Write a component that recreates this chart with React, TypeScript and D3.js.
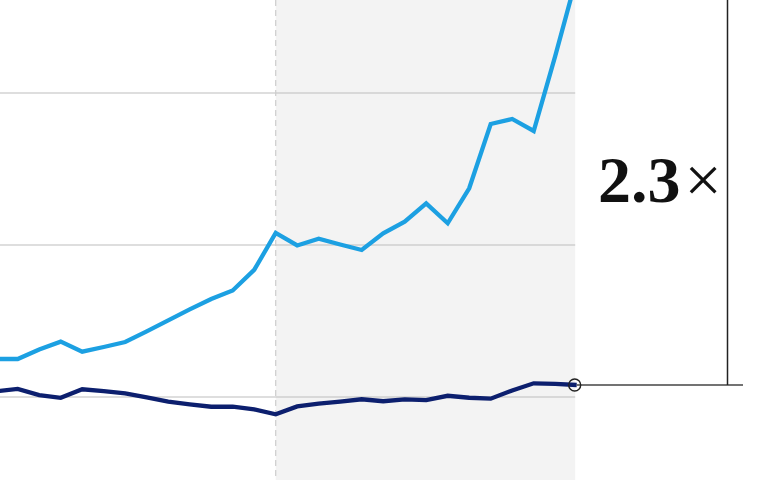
import React from "react";
import * as d3 from "d3";

const years = d3.range(1990, 2018).map(String);
const seriesLight = [225.0, 225.0, 231.3, 236.4, 229.8, 232.9, 236.2, 243.2, 250.4, 257.6, 264.5, 270.1, 283.6, 307.9, 299.7, 304.1, 300.3, 296.7, 307.7, 315.3, 327.4, 314.3, 337.3, 379.6, 382.9, 375.0, 424.3, 476.3];
const seriesDark = [203.7, 205.3, 201.3, 199.5, 205.1, 203.8, 202.4, 199.7, 197.0, 195.2, 193.6, 193.6, 191.8, 188.6, 193.8, 195.7, 197.0, 198.5, 197.2, 198.5, 198.0, 200.8, 199.5, 198.9, 204.3, 209.0, 208.6, 207.9];
const gridValues = [200, 300, 400];
const shadeStartYear = "2003";
const ratioLabel = "2.3";

export default function App() {
  const W = 767, H = 480;
  const x = d3.scaleLinear().domain([0, years.length - 1]).range([-3.8, 576.7]);
  const y = d3.scaleLinear().domain([0, 400]).range([701, 93]);
  const xEnd = x(years.length - 1);
  const xShade = x(years.indexOf(shadeStartYear));
  const line = d3.line<number>().x((_, i) => x(i)).y((d) => y(d));
  const lastDark = seriesDark[seriesDark.length - 1];
  const lastLight = seriesLight[seriesLight.length - 1];
  const bracketX = 727.5;
  return (
    <svg width={W} height={H} style={{ position: "absolute", left: 0, top: 0, background: "#fff" }}>
      <rect x={xShade} y={0} width={xEnd - 1.5 - xShade} height={H} fill="#f3f3f3" />
      {gridValues.map((v) => (
        <line key={v} x1={0} x2={xEnd - 1.5} y1={y(v)} y2={y(v)} stroke="#bdbdbd" strokeWidth={1} />
      ))}
      <line x1={xShade} x2={xShade} y1={0} y2={H} stroke="#cdcdcd" strokeWidth={1.2} strokeDasharray="6,4" />
      <path d={line(seriesLight) || ""} fill="none" stroke="#1ca0e2" strokeWidth={4.3} strokeLinejoin="miter" />
      <path d={line(seriesDark) || ""} fill="none" stroke="#0c1f6e" strokeWidth={4.3} strokeLinejoin="miter" />
      <line x1={xEnd} x2={743} y1={y(lastDark)} y2={y(lastDark)} stroke="#444" strokeWidth={1.3} />
      <line x1={bracketX} x2={bracketX} y1={y(lastLight)} y2={y(lastDark)} stroke="#222" strokeWidth={1.5} />
      <circle cx={xEnd - 2} cy={y(lastDark)} r={6} fill="none" stroke="#222" strokeWidth={1.4} />
      <text x={598} y={202} fontFamily="'Liberation Serif', serif" fontSize={66} fill="#111">
        <tspan fontWeight="bold">{ratioLabel}</tspan>
        <tspan dx={4}>×</tspan>
      </text>
    </svg>
  );
}
